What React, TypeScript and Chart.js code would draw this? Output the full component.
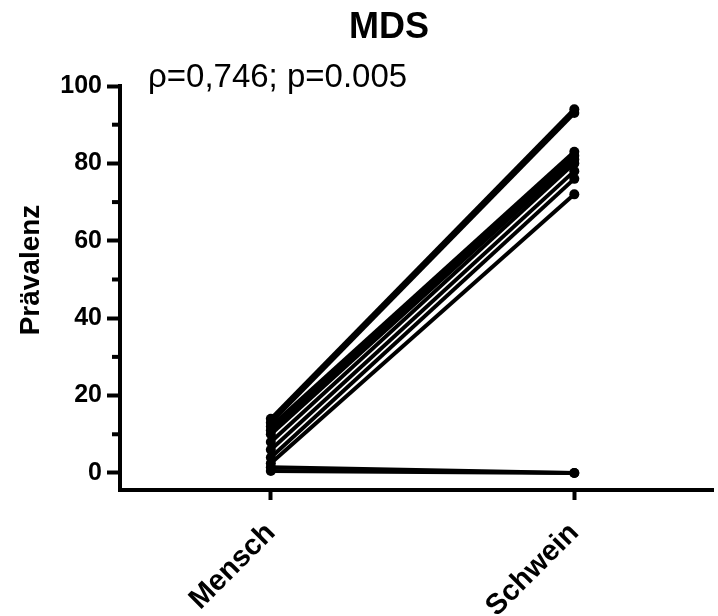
import React, { useEffect, useRef } from "react";
import { Chart, registerables } from "chart.js";

Chart.register(...registerables);

const categories = ["Mensch", "Schwein"];
const menschValues = [14, 13, 12, 11, 10, 8, 6, 4, 2.5, 1.5, 0.5];
const schweinValues = [94, 93, 83, 82, 81, 80, 78, 76, 72, 0, 0];
const yMajorTicks = [0, 20, 40, 60, 80, 100];
const yMinorTicks = [10, 30, 50, 70, 90];
const titleText = "MDS";
const yTitle = "Prävalenz";
const annotationText = "ρ=0,746; p=0.005";

const FONT = "'Liberation Sans', Arial, sans-serif";

export default function App() {
  const ref = useRef<HTMLCanvasElement | null>(null);

  useEffect(() => {
    if (!ref.current) return;
    const datasets = menschValues.map((m, i) => ({
      label: "S" + (i + 1),
      data: [
        { x: 0, y: m },
        { x: 1, y: schweinValues[i] },
      ],
      borderColor: "#000",
      backgroundColor: "#000",
      borderWidth: 4,
      pointRadius: 5,
      pointBackgroundColor: "#000",
      pointBorderWidth: 0,
      tension: 0,
      clip: false as any,
    }));

    const textPlugin = {
      id: "textPlugin",
      afterDraw(chart: any) {
        const ctx = chart.ctx;
        const y = chart.scales.y;
        const area = chart.chartArea;
        ctx.save();
        // minor ticks
        ctx.strokeStyle = "#000";
        ctx.lineWidth = 4;
        yMinorTicks.forEach((v) => {
          const py = y.getPixelForValue(v);
          ctx.beginPath();
          ctx.moveTo(area.left - 8, py);
          ctx.lineTo(area.left, py);
          ctx.stroke();
        });
        ctx.fillStyle = "#000";
        // title
        ctx.font = `bold 36px ${FONT}`;
        ctx.textAlign = "center";
        ctx.textBaseline = "alphabetic";
        ctx.fillText(titleText, 389, 38);
        // annotation
        ctx.font = `33px ${FONT}`;
        ctx.textAlign = "left";
        ctx.fillText(annotationText, 148, 87);
        // y axis title
        ctx.save();
        ctx.translate(31, 270);
        ctx.rotate(-Math.PI / 2);
        ctx.font = `bold 28px ${FONT}`;
        ctx.textAlign = "center";
        ctx.textBaseline = "middle";
        ctx.fillText(yTitle, 0, 0);
        ctx.restore();
        ctx.restore();
      },
    };

    const chart = new Chart(ref.current, {
      type: "line",
      data: { datasets },
      plugins: [textPlugin],
      options: {
        animation: false,
        responsive: false,
        layout: { padding: { top: 86, right: 3, left: 0, bottom: 0 } },
        plugins: {
          legend: { display: false },
          tooltip: { enabled: false },
          title: { display: false },
        },
        scales: {
          x: {
            type: "linear",
            min: -0.497,
            max: 1.457,
            afterBuildTicks: (scale: any) => {
              scale.ticks = categories.map((_, i) => ({ value: i }));
            },
            afterFit: (scale: any) => {
              scale.height = 126;
            },
            border: { display: true, width: 4, color: "#000" },
            grid: {
              display: true,
              drawOnChartArea: false,
              drawTicks: true,
              tickLength: 10,
              tickWidth: 4,
              tickColor: "#000",
              color: "#000",
            },
            ticks: {
              autoSkip: false,
              minRotation: 45,
              maxRotation: 45,
              padding: 16,
              color: "#000",
              font: { family: FONT, size: 29, weight: "bold" },
              callback: (v: any) => categories[v] ?? "",
            },
          },
          y: {
            type: "linear",
            min: -4.4,
            max: 100,
            afterBuildTicks: (scale: any) => {
              scale.ticks = yMajorTicks.map((v) => ({ value: v }));
            },
            afterFit: (scale: any) => {
              scale.width = 120;
            },
            border: { display: true, width: 4, color: "#000" },
            grid: {
              display: true,
              drawOnChartArea: false,
              drawTicks: true,
              tickLength: 13,
              tickWidth: 4,
              tickColor: "#000",
              color: "#000",
            },
            ticks: {
              padding: 5,
              color: "#000",
              font: { family: FONT, size: 25, weight: "bold" },
              callback: (v: any) => String(v),
            },
            title: { display: false },
          },
        },
      } as any,
    });
    return () => chart.destroy();
  }, []);

  return (
    <div style={{ position: "absolute", left: 0, top: 0, width: 718, height: 616, background: "#fff" }}>
      <canvas ref={ref} width={718} height={616} style={{ display: "block" }} />
    </div>
  );
}
